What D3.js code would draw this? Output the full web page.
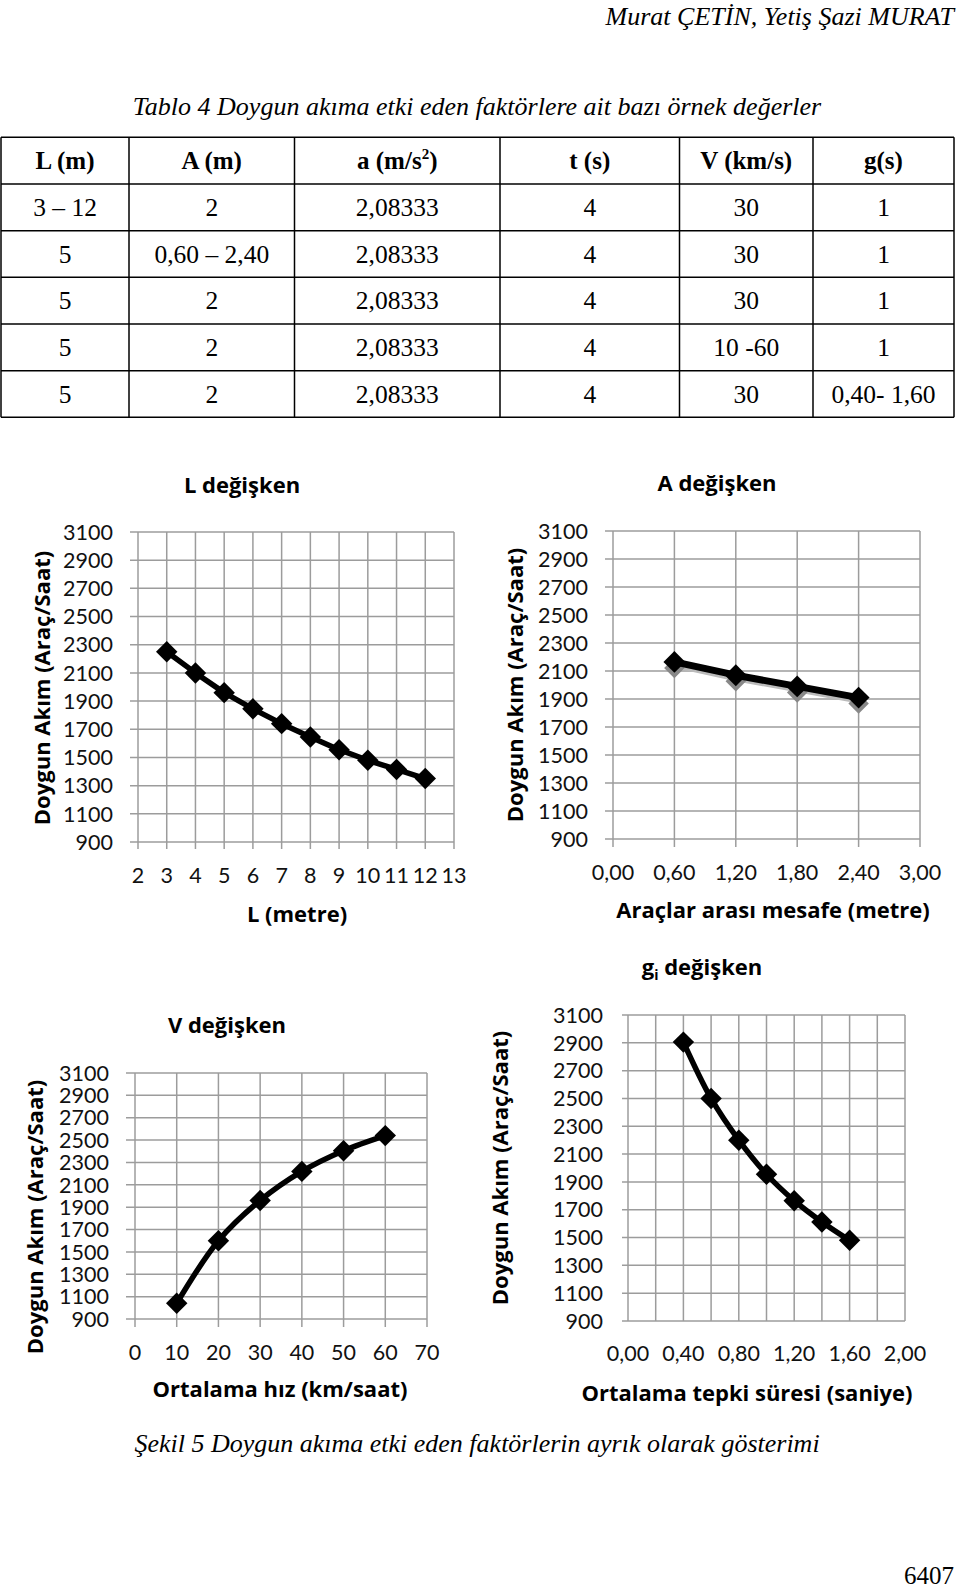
<!DOCTYPE html>
<html>
<head>
<meta charset="utf-8">
<script src="https://cdn.jsdelivr.net/npm/d3@7"></script>
<style>
  body { margin: 0; background: #fff; }
  .serif { font-family: "Liberation Serif", "Times New Roman", serif; }
  .sans { font-family: Lato, "Open Sans", sans-serif; }
  .bold { font-family: "Open Sans", Lato, sans-serif; font-weight: bold; }
</style>
</head>
<body>
<svg id="page"></svg>
<script>
var width = 960,
    height = 1592;

// table data
const tableHeaders = ["L (m)", "A (m)", "a (m/s2)", "t (s)", "V (km/s)", "g(s)"];
const tableRows = [
  ["3 \u2013 12", "2", "2,08333", "4", "30", "1"],
  ["5", "0,60 \u2013 2,40", "2,08333", "4", "30", "1"],
  ["5", "2", "2,08333", "4", "30", "1"],
  ["5", "2", "2,08333", "4", "10 -60", "1"],
  ["5", "2", "2,08333", "4", "30", "0,40- 1,60"]
];

// chart data
const yTicks = [900, 1100, 1300, 1500, 1700, 1900, 2100, 2300, 2500, 2700, 2900, 3100];

const lValues = [3, 4, 5, 6, 7, 8, 9, 10, 11, 12];
const lFlow = [2250, 2100, 1960, 1845, 1740, 1645, 1555, 1480, 1415, 1350];
const lTicks = [2, 3, 4, 5, 6, 7, 8, 9, 10, 11, 12, 13];

const aValues = [0.6, 1.2, 1.8, 2.4];
const aFlow = [2165, 2070, 1990, 1910];
const aTicks = [0, 0.6, 1.2, 1.8, 2.4, 3.0];

const vValues = [10, 20, 30, 40, 50, 60];
const vFlow = [1040, 1600, 1960, 2220, 2405, 2540];
const vTicks = [0, 10, 20, 30, 40, 50, 60, 70];

const gValues = [0.4, 0.6, 0.8, 1.0, 1.2, 1.4, 1.6];
const gFlow = [2905, 2500, 2200, 1955, 1765, 1612, 1480];
const gGrid = [0, 0.2, 0.4, 0.6, 0.8, 1.0, 1.2, 1.4, 1.6, 1.8, 2.0];
const gTicks = [0, 0.4, 0.8, 1.2, 1.6, 2.0];

const svg = d3.select('#page')
  .attr('width', width)
  .attr('height', height);

svg.append('rect').attr('width', width).attr('height', height).attr('fill', '#fff');

// page header
svg.append('text')
  .attr('class', 'serif')
  .attr('x', 954).attr('y', 25)
  .attr('text-anchor', 'end')
  .style('font-style', 'italic')
  .style('font-size', '26px')
  .text('Murat ÇETİN, Yetiş Şazi MURAT');

svg.append('text')
  .attr('class', 'serif')
  .attr('x', 477).attr('y', 115)
  .attr('text-anchor', 'middle')
  .style('font-style', 'italic')
  .style('font-size', '26px')
  .text('Tablo 4 Doygun akıma etki eden faktörlere ait bazı örnek değerler');

// table
var colEdges = [1, 129, 294.5, 500, 679.5, 813, 954];
var tableTop = 137.3, rowH = 46.67;
var table = svg.append('g').attr('class', 'table serif');

var nRows = tableRows.length + 1;
table.selectAll('.hline')
  .data(d3.range(nRows + 1))
  .enter().append('line')
    .attr('x1', colEdges[0]).attr('x2', colEdges[colEdges.length - 1])
    .attr('y1', d => tableTop + d * rowH).attr('y2', d => tableTop + d * rowH)
    .attr('stroke', '#000').attr('stroke-width', 1.5);

table.selectAll('.vline')
  .data(colEdges)
  .enter().append('line')
    .attr('x1', d => d).attr('x2', d => d)
    .attr('y1', tableTop).attr('y2', tableTop + nRows * rowH)
    .attr('stroke', '#000').attr('stroke-width', 1.5);

var colCenter = i => (colEdges[i] + colEdges[i + 1]) / 2;

table.selectAll('.head')
  .data(tableHeaders)
  .enter().append('text')
    .attr('x', (d, i) => colCenter(i))
    .attr('y', tableTop + 32)
    .attr('text-anchor', 'middle')
    .style('font-weight', 'bold')
    .style('font-size', '25px')
    .each(function(d) {
      var t = d3.select(this);
      if (d === 'a (m/s2)') {
        t.append('tspan').text('a (m/s');
        t.append('tspan').attr('dy', -10).style('font-size', '15px').text('2');
        t.append('tspan').attr('dy', 10).text(')');
      } else {
        t.text(d);
      }
    });

tableRows.forEach((row, r) => {
  table.selectAll('.row' + r)
    .data(row)
    .enter().append('text')
      .attr('x', (d, i) => colCenter(i))
      .attr('y', tableTop + (r + 1) * rowH + 32)
      .attr('text-anchor', 'middle')
      .style('font-size', '25.5px')
      .text(d => d);
});

// figure caption and page number
svg.append('text')
  .attr('class', 'serif')
  .attr('x', 477).attr('y', 1452)
  .attr('text-anchor', 'middle')
  .style('font-style', 'italic')
  .style('font-size', '26px')
  .text('Şekil 5 Doygun akıma etki eden faktörlerin ayrık olarak gösterimi');

svg.append('text')
  .attr('class', 'serif')
  .attr('x', 954).attr('y', 1584)
  .attr('text-anchor', 'end')
  .style('font-size', '25px')
  .text('6407');

var comma = d => d3.format('.2f')(d).replace('.', ',');

function drawChart(o) {
  var g = svg.append('g').attr('class', 'chart sans');

  var x = d3.scaleLinear().domain(o.xDomain).range([o.left, o.right]);
  var y = d3.scaleLinear().domain([900, 3100]).range([o.bottom, o.top]);

  // horizontal grid + left ticks
  g.selectAll('.hgrid')
    .data(yTicks)
    .enter().append('line')
      .attr('x1', o.left - o.tickL).attr('x2', o.right)
      .attr('y1', d => y(d)).attr('y2', d => y(d))
      .attr('stroke', '#9c9c9c').attr('stroke-width', 1.5);

  // vertical grid + bottom ticks
  g.selectAll('.vgrid')
    .data(o.grid)
    .enter().append('line')
      .attr('x1', d => x(d)).attr('x2', d => x(d))
      .attr('y1', o.top).attr('y2', o.bottom + o.tickB)
      .attr('stroke', '#9c9c9c').attr('stroke-width', 1.5);

  // y tick labels
  g.selectAll('.ylab')
    .data(yTicks)
    .enter().append('text')
      .attr('x', o.labelRight)
      .attr('y', d => y(d))
      .attr('dy', '0.36em')
      .attr('text-anchor', 'end')
      .style('font-size', '21.5px')
      .attr('fill', '#111')
      .text(d => d);

  // x tick labels
  g.selectAll('.xlab')
    .data(o.ticks)
    .enter().append('text')
      .attr('x', d => x(d))
      .attr('y', o.xLabelY)
      .attr('text-anchor', 'middle')
      .style('font-size', '21.5px')
      .attr('fill', '#111')
      .text(o.fmt);

  // title
  var title = g.append('text')
    .attr('class', 'bold')
    .attr('x', o.titleX).attr('y', o.titleY)
    .attr('text-anchor', 'middle')
    .style('font-size', '22px');
  if (o.sub) {
    title.append('tspan').text('g');
    title.append('tspan').attr('dy', 5).style('font-size', '14px').text('i');
    title.append('tspan').attr('dy', -5).text(' değişken');
  } else {
    title.text(o.title);
  }

  // axis titles
  g.append('text')
    .attr('class', 'bold')
    .attr('x', o.xTitleX).attr('y', o.xTitleY)
    .attr('text-anchor', 'middle')
    .style('font-size', '22px')
    .text(o.xTitle);

  g.append('text')
    .attr('class', 'bold')
    .attr('transform', 'translate(' + o.yTitleX + ',' + o.yTitleY + ') rotate(-90)')
    .attr('dy', '0.36em')
    .attr('text-anchor', 'middle')
    .style('font-size', '22px')
    .text('Doygun Akım (Araç/Saat)');

  var pts = o.xs.map((d, i) => [x(d), y(o.ys[i])]);

  var line = d3.line().curve(o.smooth ? d3.curveCatmullRom : d3.curveLinear);

  if (o.shadow) {
    g.append('path')
      .attr('d', line(pts.map(p => [p[0], p[1] + 3])))
      .attr('fill', 'none').attr('stroke', '#bbb').attr('stroke-width', 6);
    g.selectAll('.shadow')
      .data(pts)
      .enter().append('path')
        .attr('d', d3.symbol().type(d3.symbolSquare).size(210))
        .attr('transform', d => 'translate(' + d[0] + ',' + (d[1] + 6) + ') rotate(45)')
        .attr('fill', '#888');
  }

  g.append('path')
    .attr('d', line(pts))
    .attr('fill', 'none')
    .attr('stroke', '#000')
    .attr('stroke-width', o.lineW)
    .attr('stroke-linejoin', 'round');

  g.selectAll('.marker')
    .data(pts)
    .enter().append('path')
      .attr('d', d3.symbol().type(d3.symbolSquare).size(o.markSize))
      .attr('transform', d => 'translate(' + d[0] + ',' + d[1] + ') rotate(45)')
      .attr('fill', '#000');
}

drawChart({
  xs: lValues, ys: lFlow, xDomain: [2, 13], grid: lTicks, ticks: lTicks, fmt: d => d,
  left: 138, right: 454, top: 532, bottom: 842, tickL: 8, tickB: 7,
  labelRight: 113, xLabelY: 883,
  title: 'L değişken', titleX: 242, titleY: 493,
  xTitle: 'L (metre)', xTitleX: 297, xTitleY: 922,
  yTitleX: 42, yTitleY: 688,
  smooth: false, lineW: 5.5, markSize: 230
});

drawChart({
  xs: aValues, ys: aFlow, xDomain: [0, 3], grid: aTicks, ticks: aTicks, fmt: comma,
  left: 613, right: 920, top: 531, bottom: 839, tickL: 8, tickB: 8,
  labelRight: 588, xLabelY: 880,
  title: 'A değişken', titleX: 717, titleY: 491,
  xTitle: 'Araçlar arası mesafe (metre)', xTitleX: 773, xTitleY: 918,
  yTitleX: 515, yTitleY: 685,
  smooth: false, lineW: 7, markSize: 240, shadow: true
});

drawChart({
  xs: vValues, ys: vFlow, xDomain: [0, 70], grid: vTicks, ticks: vTicks, fmt: d => d,
  left: 135, right: 427, top: 1073, bottom: 1319, tickL: 9, tickB: 8,
  labelRight: 109, xLabelY: 1360,
  title: 'V değişken', titleX: 227, titleY: 1033,
  xTitle: 'Ortalama hız (km/saat)', xTitleX: 280, xTitleY: 1397,
  yTitleX: 35, yTitleY: 1217,
  smooth: true, lineW: 5.5, markSize: 230
});

drawChart({
  xs: gValues, ys: gFlow, xDomain: [0, 2], grid: gGrid, ticks: gTicks, fmt: comma,
  left: 628, right: 905, top: 1015, bottom: 1321, tickL: 6, tickB: 0,
  labelRight: 603, xLabelY: 1361,
  title: 'gi değişken', sub: true, titleX: 702, titleY: 975,
  xTitle: 'Ortalama tepki süresi (saniye)', xTitleX: 747, xTitleY: 1401,
  yTitleX: 500, yTitleY: 1168,
  smooth: true, lineW: 5.5, markSize: 230
});
</script>
</body>
</html>
